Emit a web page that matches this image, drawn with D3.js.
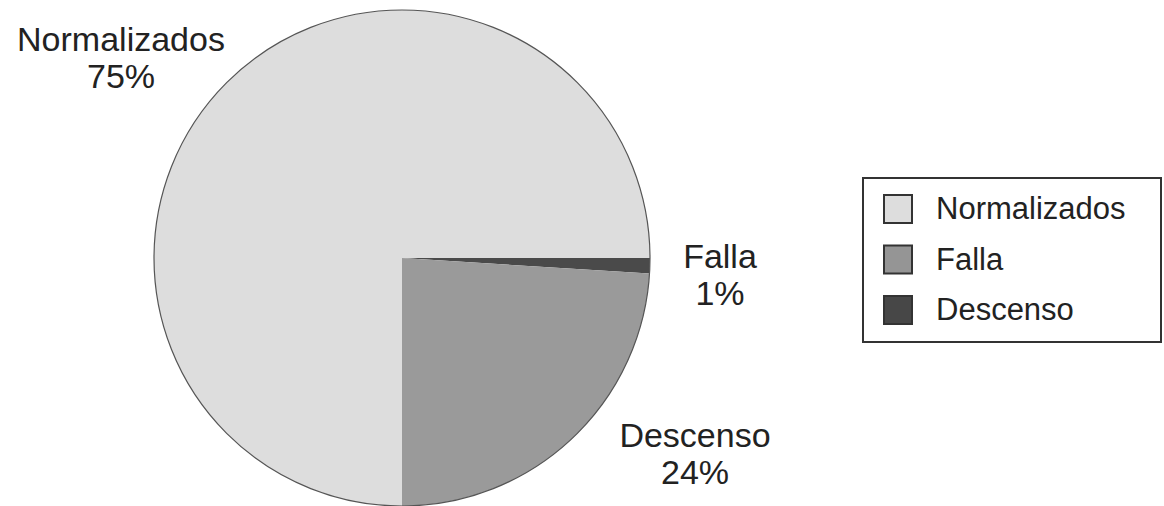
<!DOCTYPE html>
<html>
<head>
<meta charset="utf-8">
<script src="https://cdn.jsdelivr.net/npm/d3@7"></script>
<style>
  html, body { margin: 0; padding: 0; background: #fff; }
  svg { display: block; }
  text { font-family: "Liberation Sans", Arial, Helvetica, sans-serif; fill: #222; }
</style>
</head>
<body>
<svg id="chart" width="1164" height="506"></svg>
<script>
// ---- data ----
const categories = ["Normalizados", "Falla", "Descenso"];
const values = [75, 1, 24];
const percentLabels = ["75%", "1%", "24%"];
// pie drawing order (clockwise from 3 o'clock)
const pieOrder = ["Falla", "Descenso", "Normalizados"];
// colours as printed in the source: slice fills and legend swatches
const sliceColors = { "Normalizados": "#dddddd", "Falla": "#4a4a4a", "Descenso": "#9a9a9a" };
const legendColors = { "Normalizados": "#dddddd", "Falla": "#959595", "Descenso": "#474747" };

// ---- layout ----
const svg = d3.select("#chart");
const cx = 402, cy = 258, r = 248;

const data = categories.map((c, i) => ({ name: c, value: values[i], pct: percentLabels[i] }));

const pie = d3.pie()
  .value(d => d.value)
  .sort((a, b) => pieOrder.indexOf(a.name) - pieOrder.indexOf(b.name))
  .startAngle(Math.PI / 2)
  .endAngle(Math.PI / 2 + 2 * Math.PI);

const arc = d3.arc().innerRadius(0).outerRadius(r);

const g = svg.append("g").attr("transform", `translate(${cx},${cy})`);
g.selectAll("path.slice")
  .data(pie(data))
  .join("path")
  .attr("class", "slice")
  .attr("d", arc)
  .attr("fill", d => sliceColors[d.data.name])
  .attr("stroke", "none");

// outline of the pie
g.append("circle")
  .attr("r", r)
  .attr("fill", "none")
  .attr("stroke", "#555")
  .attr("stroke-width", 1.2);

// ---- slice labels (name line + percent line as separate texts) ----
const labelPos = {
  "Normalizados": { x: 121, y: 51 },
  "Falla": { x: 720, y: 268 },
  "Descenso": { x: 695, y: 447 }
};
const lineGap = 37;
const labels = svg.append("g");
data.forEach(d => {
  const p = labelPos[d.name];
  labels.append("text")
    .attr("x", p.x).attr("y", p.y)
    .attr("text-anchor", "middle")
    .style("font-size", "34px")
    .text(d.name);
  labels.append("text")
    .attr("x", p.x).attr("y", p.y + lineGap)
    .attr("text-anchor", "middle")
    .style("font-size", "34px")
    .text(d.pct);
});

// ---- legend ----
const legend = svg.append("g");
legend.append("rect")
  .attr("x", 863).attr("y", 178)
  .attr("width", 298).attr("height", 164)
  .attr("fill", "#fff")
  .attr("stroke", "#333")
  .attr("stroke-width", 2);

const rowY = d3.scalePoint().domain(categories).range([209, 310]);
const items = legend.selectAll("g.item")
  .data(categories)
  .join("g")
  .attr("class", "item")
  .attr("transform", d => `translate(0,${rowY(d)})`);

items.append("rect")
  .attr("x", 884).attr("y", -14)
  .attr("width", 28).attr("height", 28)
  .attr("fill", d => legendColors[d])
  .attr("stroke", "#333")
  .attr("stroke-width", 2);

items.append("text")
  .attr("x", 936).attr("y", 10)
  .style("font-size", "31px")
  .text(d => d);
</script>
</body>
</html>
